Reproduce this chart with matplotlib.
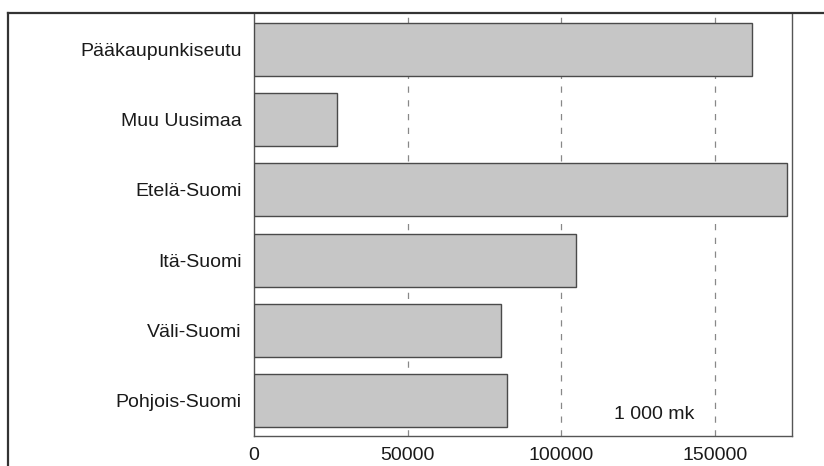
import matplotlib.pyplot as plt
from matplotlib.lines import Line2D

regions = ['Pääkaupunkiseutu', 'Muu Uusimaa', 'Etelä-Suomi',
           'Itä-Suomi', 'Väli-Suomi', 'Pohjois-Suomi']
values = [162000, 27000, 173500, 104800, 80300, 82400]
xticks = [0, 50000, 100000, 150000]

plt.rcParams['font.family'] = ['Liberation Sans Narrow', 'Liberation Sans', 'DejaVu Sans']

fig = plt.figure(figsize=(8.24, 4.66), dpi=100)
ax = fig.add_axes([254/824, 30/466, 538/824, 422/466])

ax.barh(range(len(regions)), values, height=0.75, color='#c6c6c6',
        edgecolor='#4a4a4a', linewidth=1.0, zorder=3)

ax.set_xlim(0, 175000)
ax.set_ylim(5.5, -0.5)
ax.set_yticks(range(len(regions)))
ax.set_yticklabels(regions, fontsize=14, color='#1a1a1a')
ax.set_xticks(xticks)
ax.set_xticklabels([str(t) for t in xticks], fontsize=14, color='#1a1a1a')
ax.tick_params(axis='both', length=0)
ax.tick_params(axis='y', pad=9)
ax.tick_params(axis='x', pad=8)

for t in xticks[1:]:
    ax.axvline(t, color='#888888', linestyle=(0, (5, 6)), linewidth=0.9, zorder=1)

for side in ['left', 'right', 'bottom']:
    ax.spines[side].set_color('#555555')
    ax.spines[side].set_linewidth(1.0)
ax.spines['top'].set_visible(False)

ax.text(0.743, 0.052, '1 000 mk', transform=ax.transAxes, fontsize=14,
        color='#1a1a1a', ha='center', va='center')

# outer frame (top and left edges)
fig.add_artist(Line2D([8/824, 1], [453/466, 453/466], color='#333333',
                      linewidth=1.6, transform=fig.transFigure))
fig.add_artist(Line2D([8/824, 8/824], [453/466, 0], color='#333333',
                      linewidth=1.6, transform=fig.transFigure))

fig.savefig('out.png', dpi=100)
